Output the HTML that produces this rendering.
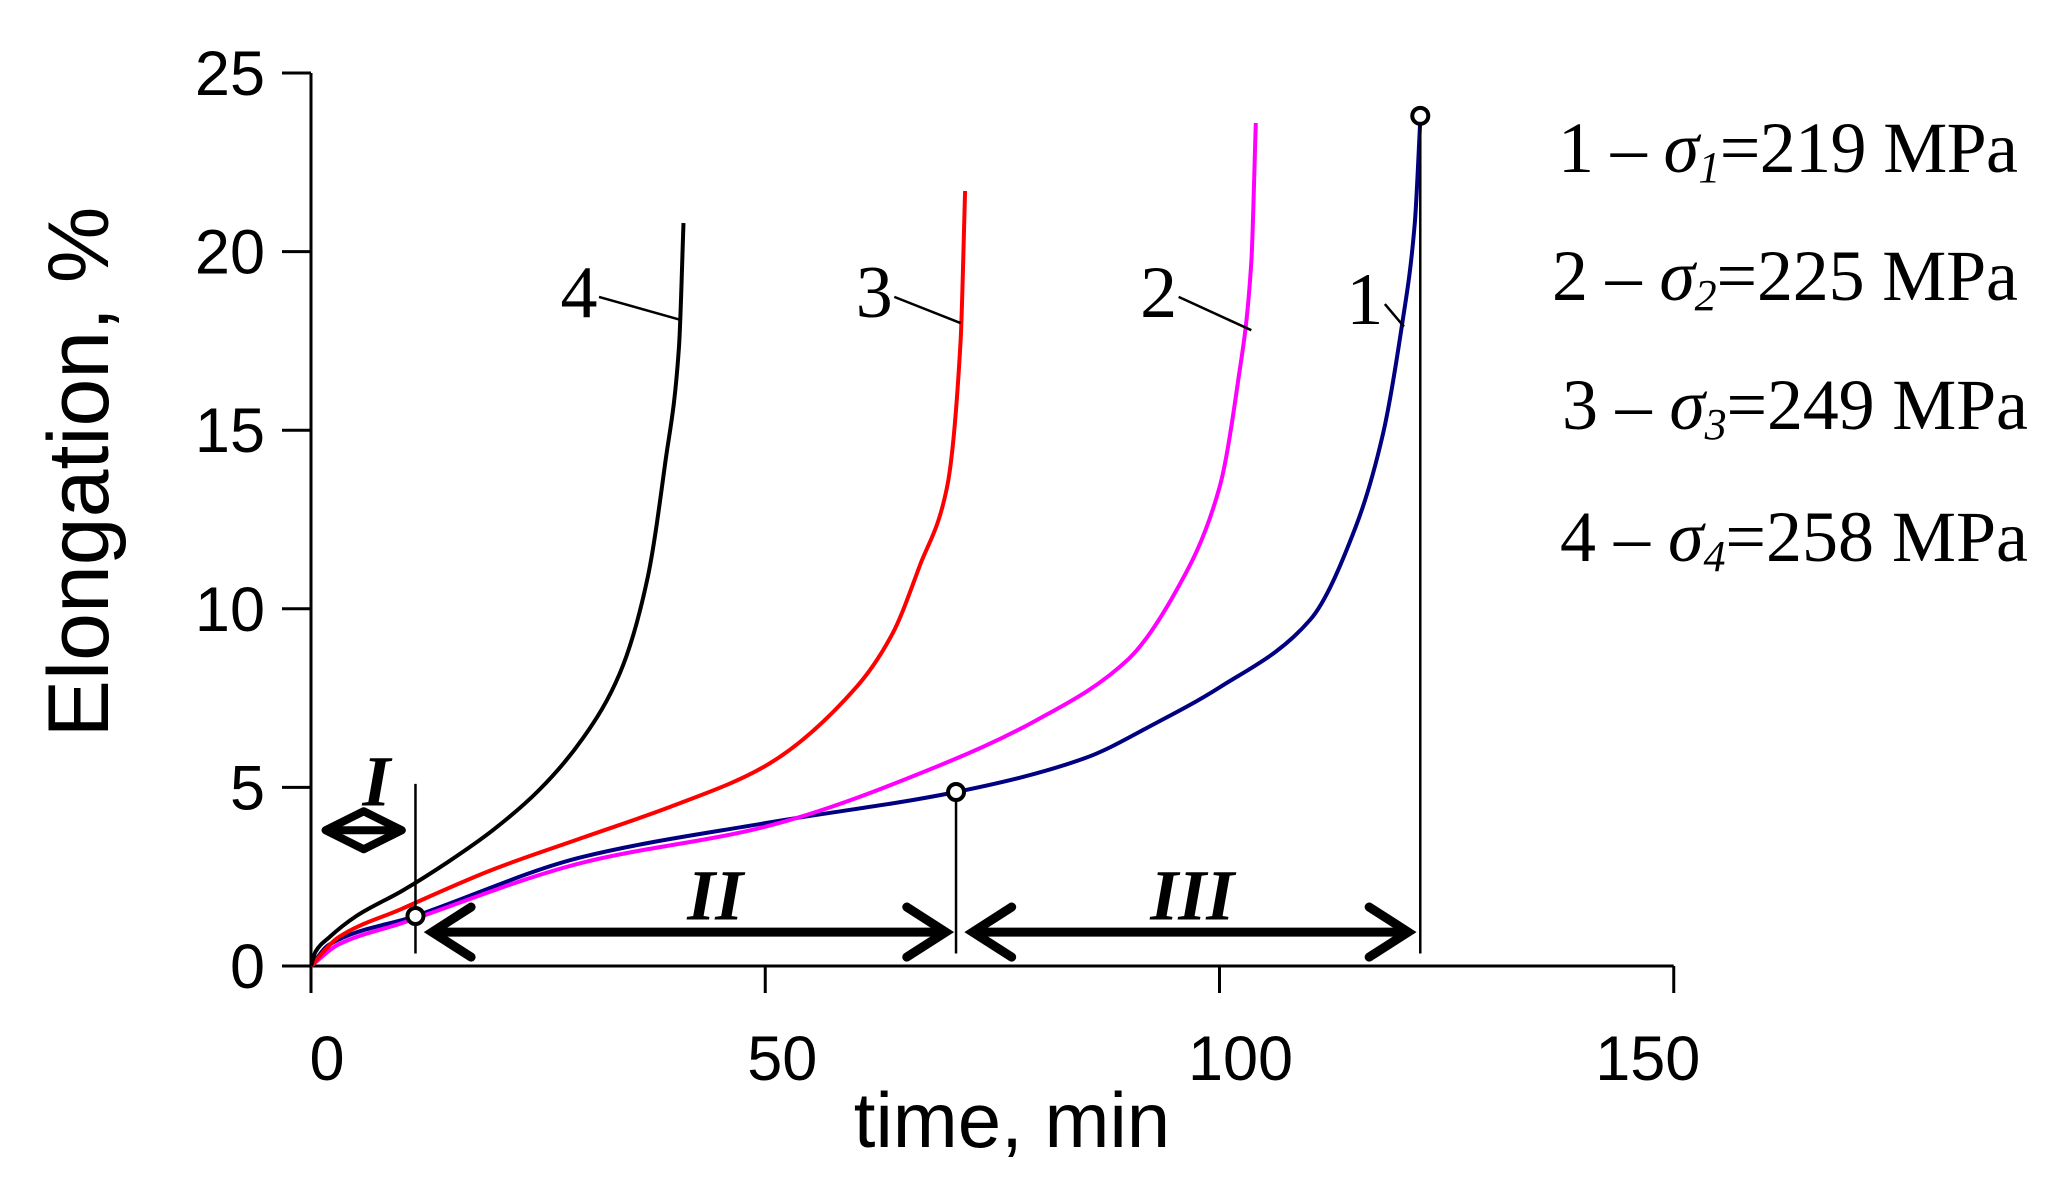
<!DOCTYPE html>
<html><head><meta charset="utf-8"><style>
html,body{margin:0;padding:0;background:#fff;}
svg{display:block;}
</style></head><body>
<svg id="chart" width="2052" height="1177" viewBox="0 0 2052 1177" xmlns="http://www.w3.org/2000/svg">
<rect width="2052" height="1177" fill="#fff"/>
<g id="axes"></g>
<g id="series"></g>
<g id="annot"></g>
<text transform="translate(108,472) rotate(-90)" text-anchor="middle" font-family="Liberation Sans, sans-serif" font-size="86">Elongation, %</text>
<text x="1012" y="1147" text-anchor="middle" font-family="Liberation Sans, sans-serif" font-size="78">time, min</text>
<g font-family="Liberation Serif, serif" font-size="72">
<text x="1558" y="172" textLength="460">1 – <tspan font-style="italic">σ<tspan font-size="44" dy="10">1</tspan></tspan><tspan dy="-10">=219 MPa</tspan></text>
<text x="1552" y="300" textLength="466">2 – <tspan font-style="italic">σ<tspan font-size="44" dy="10">2</tspan></tspan><tspan dy="-10">=225 MPa</tspan></text>
<text x="1562" y="429" textLength="466">3 – <tspan font-style="italic">σ<tspan font-size="44" dy="10">3</tspan></tspan><tspan dy="-10">=249 MPa</tspan></text>
<text x="1560" y="561" textLength="468">4 – <tspan font-style="italic">σ<tspan font-size="44" dy="10">4</tspan></tspan><tspan dy="-10">=258 MPa</tspan></text>
</g>
</svg>
<script>
const xTicks = [0, 50, 100, 150];
const yTicks = [0, 5, 10, 15, 20, 25];
const seriesNames = ["1", "2", "3", "4"];
const seriesColors = ["#000080", "#ff00ff", "#ff0000", "#000000"];
const t1 = [0, 2, 11.5, 30, 50, 71, 85, 93, 100, 110, 115, 118, 120, 121.5, 122.1];
const e1 = [0, 0.6, 1.4, 3.06, 4.0, 4.87, 5.8, 6.8, 7.8, 9.7, 12.3, 14.9, 17.8, 20.8, 23.7];
const t2 = [0, 3, 10, 30, 50, 70, 80, 90, 95, 100, 102, 103.5, 104];
const e2 = [0, 0.6, 1.2, 2.9, 3.9, 5.7, 6.9, 8.6, 10.4, 13.4, 16.3, 19.7, 23.6];
const t3 = [0, 3, 10, 20, 30, 40, 50, 60, 64, 67, 70, 71.5, 72];
const e3 = [0, 0.8, 1.6, 2.7, 3.6, 4.5, 5.6, 7.8, 9.3, 11.2, 13.4, 17.5, 21.7];
const t4 = [0, 0.5, 2, 5, 10, 15, 20, 25, 30, 34, 37, 39, 40.5, 41];
const e4 = [0, 0.4, 0.8, 1.4, 2.1, 2.9, 3.8, 4.9, 6.4, 8.2, 10.8, 14.1, 17.3, 20.8];
const markerT = [11.5, 71, 122.1];
const markerE = [1.4, 4.87, 23.8];

const NS = "http://www.w3.org/2000/svg";
const X0 = 311, XK = 9.085, Y0 = 966, YK = (966 - 73) / 25;
function X(t){ return X0 + t * XK; }
function Y(v){ return Y0 - v * YK; }
function mk(tag, attrs, parent){
  const el = document.createElementNS(NS, tag);
  for (const k in attrs) el.setAttribute(k, attrs[k]);
  parent.appendChild(el);
  return el;
}
// monotone cubic (Fritsch-Carlson) path in pixel space
function monoPath(xs, ys){
  const n = xs.length, dx = [], m = [], s = [];
  for (let i = 0; i < n - 1; i++){ dx.push(xs[i+1] - xs[i]); s.push((ys[i+1] - ys[i]) / dx[i]); }
  m[0] = s[0]; m[n-1] = s[n-2];
  for (let i = 1; i < n - 1; i++){
    if (s[i-1] * s[i] <= 0) m[i] = 0;
    else { const w1 = 2*dx[i] + dx[i-1], w2 = dx[i] + 2*dx[i-1]; m[i] = (w1 + w2) / (w1 / s[i-1] + w2 / s[i]); }
  }
  let d = 'M' + xs[0].toFixed(1) + ',' + ys[0].toFixed(1);
  for (let i = 0; i < n - 1; i++){
    const h = dx[i] / 3;
    d += ' C' + (xs[i] + h).toFixed(1) + ',' + (ys[i] + m[i]*h).toFixed(1) + ' ' + (xs[i+1] - h).toFixed(1) + ',' + (ys[i+1] - m[i+1]*h).toFixed(1) + ' ' + xs[i+1].toFixed(1) + ',' + ys[i+1].toFixed(1);
  }
  return d;
}
const axes = document.getElementById('axes');
const series = document.getElementById('series');
const annot = document.getElementById('annot');

let el = mk('line', {x1: X(0), y1: Y(25), x2: X(0), y2: Y0 + 27, stroke: '#000', 'stroke-width': 3}, axes);


el = mk('line', {x1: X(0) - 29, y1: Y0, x2: X(150), y2: Y0, stroke: '#000', 'stroke-width': 3}, axes);


yTicks.forEach(v => {
  let tk = mk('line', {x1: X(0) - 29, y1: Y(v), x2: X(0), y2: Y(v), stroke: '#000', 'stroke-width': 3}, axes);
  
  
  let tx = mk('text', {x: 265, y: Y(v) + 22, 'text-anchor': 'end', 'font-family': 'Liberation Sans, sans-serif', 'font-size': 63}, axes);
  tx.textContent = v;
  
  
});
const labelShift = [16, 17, 21, -26];
xTicks.forEach((v, i) => {
  let tk = mk('line', {x1: X(v), y1: Y0, x2: X(v), y2: Y0 + 27, stroke: '#000', 'stroke-width': 3}, axes);
  
  
  let tx = mk('text', {x: X(v) + labelShift[i], y: 1080, 'text-anchor': 'middle', 'font-family': 'Liberation Sans, sans-serif', 'font-size': 63}, axes);
  tx.textContent = v;
  
  
});

const data = [[t1, e1], [t2, e2], [t3, e3], [t4, e4]];
data.forEach((d, i) => {
  const xs = d[0].map(X), ys = d[1].map(Y);
  let pl = mk('path', {d: monoPath(xs, ys), fill: 'none', stroke: seriesColors[i], 'stroke-width': 4, 'stroke-linejoin': 'round'}, series);
  
  
});

[[11.5, 5.1], [71, 4.87], [122.1, 23.8]].forEach(p => {
  let l = mk('line', {x1: X(p[0]), y1: Y(p[1]), x2: X(p[0]), y2: Y(0.35), stroke: '#000', 'stroke-width': 2.5}, annot);
  
  
});
markerT.forEach((t, i) => {
  let c = mk('circle', {cx: X(t), cy: Y(markerE[i]), r: 8, fill: '#fff', stroke: '#000', 'stroke-width': 4}, annot);
  
  
});
function arrow(ta, tb, yv, name){
  const y = Y(yv), xa = X(ta), xb = X(tb);
  const g = mk('g', {stroke: '#000', 'stroke-width': 9, 'stroke-linecap': 'round', fill: 'none'}, annot);
  
  
  mk('line', {x1: xa + 4, y1: y, x2: xb - 4, y2: y}, g);
  mk('polyline', {points: `${xa + 42},${y - 25} ${xa + 3},${y} ${xa + 42},${y + 25}`}, g);
  mk('polyline', {points: `${xb - 42},${y - 25} ${xb - 3},${y} ${xb - 42},${y + 25}`}, g);
}
arrow(13, 70.2, 0.95, 'stage-II-arrow');
arrow(72.5, 121.1, 0.95, 'stage-III-arrow');
(function(){
  const y = Y(3.8);
  const g = mk('g', {stroke: '#000', 'stroke-width': 8, 'stroke-linejoin': 'round', fill: 'none'}, annot);
  
  
  mk('polygon', {points: `${X(1.6)},${y} ${X(5.8)},${y - 19} ${X(10)},${y} ${X(5.8)},${y + 19}`}, g);
  mk('line', {x1: X(1.6), y1: y, x2: X(10), y2: y}, g);
})();
[['I', 7.2, 4.5, 'stage-I-label'], ['II', 44.5, 1.3, 'stage-II-label'], ['III', 97, 1.3, 'stage-III-label']].forEach(l => {
  let tx = mk('text', {x: X(l[1]), y: Y(l[2]), 'text-anchor': 'middle', 'font-family': 'Liberation Serif, serif', 'font-size': 72, 'font-weight': 'bold', 'font-style': 'italic'}, annot);
  tx.textContent = l[0];
  
  
});
const lblT = [116, 93.3, 62, 29.5];
const lblE = [18.7, 18.9, 18.9, 18.9];
const leadT = [120.3, 103.5, 71.5, 40.5];
const leadE = [17.9, 17.8, 18.0, 18.1];
lblT.forEach((t, i) => {
  let tx = mk('text', {x: X(t), y: Y(lblE[i]) + 26, 'text-anchor': 'middle', 'font-family': 'Liberation Serif, serif', 'font-size': 74}, annot);
  tx.textContent = seriesNames[i];
  
  
  let l = mk('line', {x1: X(t) + 20, y1: Y(lblE[i]) + 6, x2: X(leadT[i]), y2: Y(leadE[i]), stroke: '#000', 'stroke-width': 2.5}, annot);
  
  
});
</script>
</body></html>
